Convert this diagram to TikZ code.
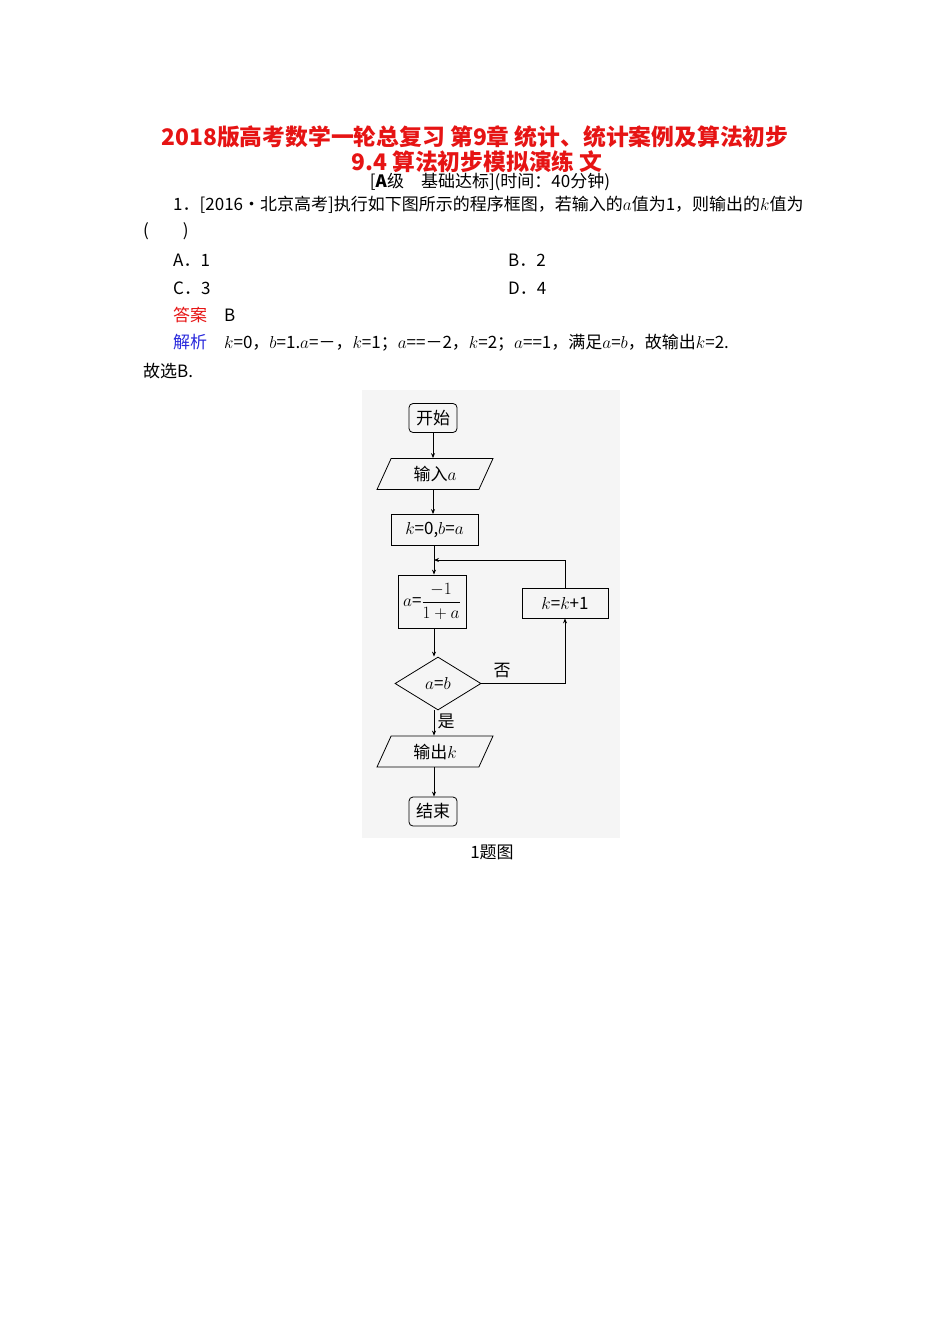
\documentclass[tikz,border=0pt]{standalone}
\usepackage{fontspec}
\newfontfamily\cjk{Noto Sans CJK SC}
\usetikzlibrary{shapes.geometric,arrows.meta}
\definecolor{tred}{RGB}{230,20,20}
\definecolor{tblue}{RGB}{40,40,220}
\begin{document}
\begin{tikzpicture}[x=1pt,y=-1pt,
 txt/.style={font=\cjk\fontsize{17}{19}\selectfont,inner sep=0pt},
 boxn/.style={draw,thick,font=\cjk\fontsize{17}{19}\selectfont,inner sep=0pt},
 term/.style={boxn,rounded corners=4pt,minimum width=48pt,minimum height=29pt},
 io/.style={boxn,trapezium,trapezium left angle=48,trapezium right angle=132,minimum width=116pt,minimum height=31pt,trapezium stretches body},
 proc/.style={boxn,rectangle},
 dec/.style={boxn,diamond,aspect=1.62,minimum width=86pt,minimum height=53pt},
 arr/.style={thick,-{Stealth[length=5pt,width=4pt]}}]
\useasboundingbox (0,0) rectangle (950,1344);
\fill[black!4] (362,390) rectangle (620,838);
% header
\node[font=\cjk\bfseries\fontsize{22.8}{24}\selectfont,text=tred] (t1) at (475,137) {2018版高考数学一轮总复习 第9章 统计、统计案例及算法初步};
\node[font=\cjk\bfseries\fontsize{22.8}{24}\selectfont,text=tred] (t2) at (477,162) {9.4 算法初步模拟演练 文};
\node[txt] (t3) at (490,182) {[\textbf{A}级\quad 基础达标](时间：40分钟)};
\node[txt,anchor=west] (q1) at (173,205) {1．[2016•北京高考]执行如下图所示的程序框图，若输入的$a$值为1，则输出的$k$值为};
\node[txt,anchor=west] (q2) at (143,231) {(\qquad)};
\node[txt,anchor=west] (oa) at (173,260) {A．1};
\node[txt,anchor=west] (ob) at (508,260) {B．2};
\node[txt,anchor=west] (oc) at (173,288) {C．3};
\node[txt,anchor=west] (od) at (508,288) {D．4};
\node[txt,anchor=west] (an) at (173,315) {\textcolor{tred}{答案}\quad B};
\node[txt,anchor=west] (jx) at (173,343) {\textcolor{tblue}{解析}\quad $k$=0，$b$=1.$a$=－，$k$=1；$a$==－2，$k$=2；$a$==1，满足$a$=$b$，故输出$k$=2.};
\node[txt,anchor=west] (gx) at (143,371) {故选B.};
% flowchart
\node[term] (s) at (433,418) {开始};
\node[io] (in) at (435,474) {输入$a$};
\node[proc,minimum width=87pt,minimum height=31pt] (init) at (434.5,530) {$k$=0,$b$=$a$};
\node[proc,minimum width=68pt,minimum height=53pt] (upd) at (432,601.5) {$a$=$\displaystyle\frac{-1}{1+a}$};
\node[proc,minimum width=86pt,minimum height=30pt] (inc) at (565,603) {$k$=$k$+1};
\node[dec] (d) at (438,683.5) {$a$=$b$};
\node[io] (out) at (435,751.5) {输出$k$};
\node[term] (e) at (433,811.5) {结束};
\coordinate (j) at (434,560);
\draw[arr] (s) -- (s|-in.north);
\draw[arr] (in.south-|s) -- (init.north-|s);
\draw[thick] (init.south-|j) -- (j);
\draw[arr] (j) -- (upd.north-|j);
\draw[arr] (upd.south-|j) -- (d.north-|j);
\draw[arr] (d.east) -| (inc.south);
\draw[arr] (inc.north) |- (j);
\draw[arr] (d.south-|j) -- (out.north-|j);
\draw[arr] (out.south-|j) -- (e.north-|j);
\node[txt] (no) at (502,671) {否};
\node[txt] (yes) at (446,721) {是};
\node[txt] (cap) at (492,852) {1题图};
\end{tikzpicture}
\end{document}
